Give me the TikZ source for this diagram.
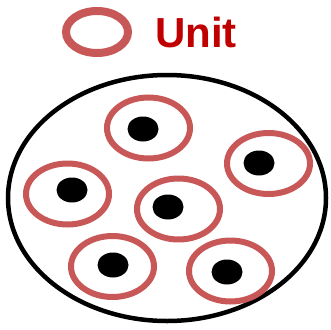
\documentclass[tikz,border=0pt]{standalone}
\usepackage{fontspec}
\setmainfont{Liberation Sans}
\definecolor{ringred}{RGB}{200,88,88}
\definecolor{textred}{RGB}{192,0,0}
\tikzset{
  unitring/.style={draw=ringred, line width=6pt},
  nucleus/.style={fill=black},
}
\begin{document}
\begin{tikzpicture}[x=1pt,y=-1pt]
            \useasboundingbox (0,0) rectangle (331,329);

            % Legend: one ring and its label
            \draw[draw=ringred, line width=8pt] (97,32) ellipse (31 and 21);
            \node[anchor=base west, inner sep=0pt, text=textred, font=\fontsize{42}{42}\selectfont\bfseries] (legend) at (155,47) {Unit};

            % The outer boundary
            \draw[black, line width=4.5pt] (167,198) ellipse (159 and 123);

            % Units with their black centres
            \foreach \rx/\ry/\dx/\dy in {148.5/128/143/129, 268.5/163.5/259/163, 67.5/194/72/190,
                                         178.5/209/168/207, 112.5/266.5/113/265, 230.5/271/227/272}{
                \draw[unitring] (\rx,\ry) ellipse (41.5 and 30.5);
                \fill[nucleus] (\dx,\dy) ellipse (15.5 and 12.5);
            }
\end{tikzpicture}
\end{document}
